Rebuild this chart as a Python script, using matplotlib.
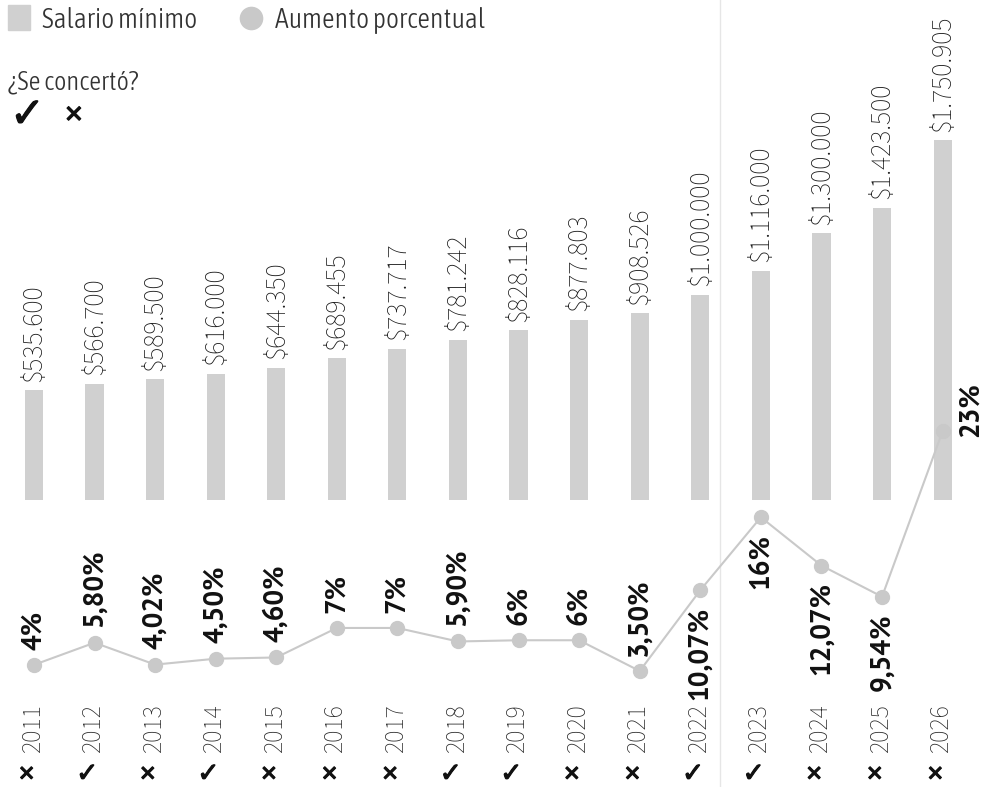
import matplotlib
matplotlib.use("Agg")
import matplotlib.pyplot as plt
import matplotlib.patheffects as pe
from matplotlib.patches import Rectangle
from matplotlib.lines import Line2D

# data
years = list(range(2011, 2027))
salario = [535600, 566700, 589500, 616000, 644350, 689455, 737717, 781242,
           828116, 877803, 908526, 1000000, 1116000, 1300000, 1423500, 1750905]
salario_txt = ["$535.600", "$566.700", "$589.500", "$616.000", "$644.350",
               "$689.455", "$737.717", "$781.242", "$828.116", "$877.803",
               "$908.526", "$1.000.000", "$1.116.000", "$1.300.000",
               "$1.423.500", "$1.750.905"]
aumento = [4, 5.8, 4.02, 4.5, 4.6, 7, 7, 5.9, 6, 6, 3.5, 10.07, 16, 12.07, 9.54, 23]
aumento_txt = ["4%", "5,80%", "4,02%", "4,50%", "4,60%", "7%", "7%", "5,90%",
               "6%", "6%", "3,50%", "10,07%", "16%", "12,07%", "9,54%", "23%"]
concerto = [False, True, False, True, False, False, False, True,
            True, False, False, True, True, False, False, False]
# where the percent label sits relative to its point
label_pos = ["above"] * 11 + ["below", "below", "below", "below", "right"]

# upright text looks condensed, rotated text looks wider (stretched scan)
UPRIGHT = ["Asap Condensed", "Archivo Narrow", "Liberation Sans Narrow", "DejaVu Sans"]
ROTATED = ["Source Sans 3", "Source Sans Pro", "PT Sans", "Noto Sans", "DejaVu Sans"]
BOLD = ["PT Sans", "Noto Sans", "DejaVu Sans"]
SYM = ["DejaVu Sans"]
BAR_C = "#d0d0d0"
DOT_C = "#c9c9c9"
W, H = 982, 787

fig = plt.figure(figsize=(W / 100, H / 100), dpi=100)
ax = fig.add_axes([0, 0, 1, 1])
ax2 = ax.twinx()
for a in (ax, ax2):
    a.set_axis_off()

ax.set_xlim(2010.44, 2026.65)
ax.set_ylim(-1.397e6, 2.4345e6)
ax2.set_ylim(-5.93, 58.05)

# faint fold line from the scan
ax.axvline(2022.33, color="#e6e6e6", lw=1, zorder=0)

ax.bar(years, salario, width=0.3, color=BAR_C, zorder=1)
for x, v, t in zip(years, salario, salario_txt):
    ax.annotate(t, (x, v), xytext=(0, 6), textcoords="offset points",
                rotation=90, ha="center", va="bottom", fontsize=20,
                family=ROTATED, color="#1e1e1e")

ax2.plot(years, aumento, color=DOT_C, lw=1.5, marker="o", ms=10,
         markerfacecolor=DOT_C, markeredgecolor=DOT_C, zorder=2)
for x, v, t, pos in zip(years, aumento, aumento_txt, label_pos):
    if pos == "above":
        off, va = (0, 11), "bottom"
    elif pos == "below":
        off, va = (0, -12), "top"
    else:
        off, va = (20, -4), "bottom"
    ax2.annotate(t, (x, v), xytext=off, textcoords="offset points",
                 rotation=90, ha="center", va=va, fontsize=20,
                 fontweight="bold", family=BOLD, color="#111111")

# year labels and the agreed/not agreed marks
tr = ax.get_xaxis_transform()
stroke = [pe.withStroke(linewidth=0.8, foreground="#111111")]
for x, ok in zip(years, concerto):
    ax.text(x - 0.02, 0.075, str(x), transform=tr, rotation=90, ha="center",
            va="center", fontsize=18.5, family=ROTATED, color="#2a2a2a")
    ax.text(x - 0.12, 0.016, "\u2713" if ok else "\u2715", transform=tr,
            ha="center", va="center", fontsize=19 if ok else 15, family=SYM,
            fontweight="bold", color="#111111", path_effects=stroke)

# legend block, top left
fig.patches.append(Rectangle((8 / W, 1 - 30 / H), 22 / W, 25 / H,
                             transform=fig.transFigure, color=BAR_C))
fig.add_artist(Line2D([251 / W], [1 - 18 / H], marker="o", ms=16, color=DOT_C,
                      transform=fig.transFigure))
fig.text(42 / W, 1 - 20 / H, "Salario mínimo", fontsize=20, family=UPRIGHT,
         fontweight=300, color="#333333", va="center")
fig.text(275 / W, 1 - 20 / H, "Aumento porcentual", fontsize=20,
         family=UPRIGHT, fontweight=300, color="#333333", va="center")
fig.text(8 / W, 1 - 82 / H, "¿Se concertó?", fontsize=19, family=UPRIGHT,
         fontweight=300, color="#333333", va="center")
fig.text(10 / W, 1 - 115 / H, "\u2713", fontsize=30, family=SYM,
         color="#111111", va="center", path_effects=stroke)
fig.text(64 / W, 1 - 115 / H, "\u2715", fontsize=17, family=SYM,
         fontweight="bold", color="#111111", va="center", path_effects=stroke)

fig.savefig("out.png", dpi=100)
